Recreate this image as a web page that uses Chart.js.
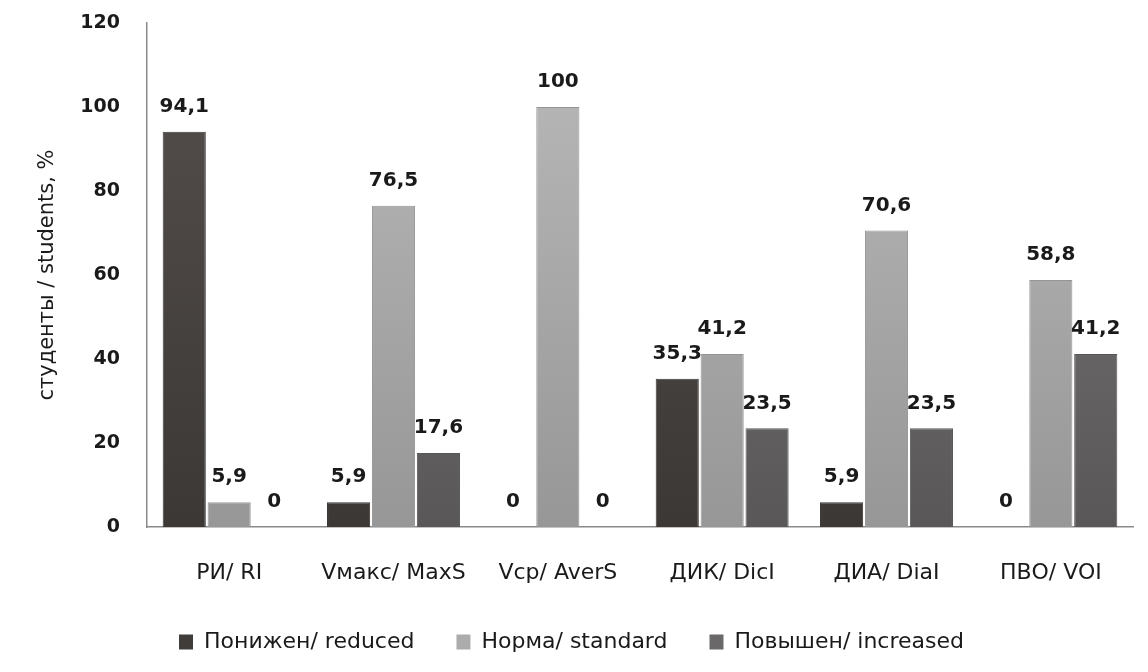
<!DOCTYPE html>
<html>
<head>
<meta charset="utf-8">
<script src="https://cdn.jsdelivr.net/npm/chart.js@4"></script>
<style>
  html, body { margin: 0; padding: 0; background: #fff; }
  #wrap { width: 1148px; height: 672px; }
</style>
</head>
<body>
<div id="wrap"><canvas id="myChart"></canvas></div>
<script>
// categories and values
var categories = ["РИ/ RI", "Vмакс/ MaxS", "Vср/ AverS", "ДИК/ DicI", "ДИА/ DiaI", "ПВО/ VOI"];
var reduced   = [94.1, 5.9, 0, 35.3, 5.9, 0];
var standard  = [5.9, 76.5, 100, 41.2, 70.6, 58.8];
var increased = [0, 17.6, 0, 23.5, 23.5, 41.2];
var seriesNames = ["Понижен/ reduced", "Норма/ standard", "Повышен/ increased"];
var yTicks = [0, 20, 40, 60, 80, 100, 120];

var FONT = "'DejaVu Sans', sans-serif";

// vertical gradient over the chart area, excel-ish look
function grad(top, bottom) {
  return function(c) {
    var area = c.chart.chartArea;
    if (!area) return bottom;
    var g = c.chart.ctx.createLinearGradient(0, area.top, 0, area.bottom);
    g.addColorStop(0, top);
    g.addColorStop(1, bottom);
    return g;
  };
}

// value labels above bars, with comma decimal
var valueLabels = {
  id: "valueLabels",
  afterDatasetsDraw: function(chart) {
    var ctx = chart.ctx;
    ctx.save();
    ctx.font = "bold 20px " + FONT;
    ctx.fillStyle = "#1a1a1a";
    ctx.textAlign = "center";
    ctx.textBaseline = "middle";
    chart.data.datasets.forEach(function(ds, i) {
      chart.getDatasetMeta(i).data.forEach(function(bar, j) {
        var txt = String(ds.data[j]).replace(".", ",");
        ctx.fillText(txt, bar.x, bar.y - 25);
      });
    });
    ctx.restore();
  }
};

new Chart("myChart", {
  type: "bar",
  data: {
    labels: categories,
    datasets: [{
      label: seriesNames[0],
      data: reduced,
      backgroundColor: grad("#55504e", "#3c3836"),
      borderColor: "#3a3634",
      borderWidth: 1
    }, {
      label: seriesNames[1],
      data: standard,
      backgroundColor: grad("#bababa", "#979797"),
      borderColor: "#959595",
      borderWidth: 1
    }, {
      label: seriesNames[2],
      data: increased,
      backgroundColor: grad("#7c7a7a", "#595757"),
      borderColor: "#575555",
      borderWidth: 1
    }]
  },
  plugins: [valueLabels],
  options: {
    responsive: true,
    maintainAspectRatio: false,
    animation: false,
    layout: { padding: { left: 10, right: 15, top: 23, bottom: 9 } },
    datasets: {
      bar: { categoryPercentage: 0.82, barPercentage: 0.96 }
    },
    plugins: {
      tooltip: { enabled: false },
      legend: {
        position: "bottom",
        labels: {
          font: { family: FONT, size: 22 },
          color: "#1a1a1a",
          boxWidth: 14,
          boxHeight: 15,
          padding: 42,
          generateLabels: function(chart) {
            var cols = ["#403c3a", "#acacac", "#6a6868"];
            return chart.data.datasets.map(function(ds, i) {
              return {
                text: ds.label,
                fillStyle: cols[i],
                strokeStyle: cols[i],
                lineWidth: 0,
                datasetIndex: i,
                fontColor: "#1a1a1a"
              };
            });
          }
        }
      }
    },
    scales: {
      x: {
        grid: { display: false, drawTicks: false },
        border: { display: true, color: "#8a8a8a", width: 1.5 },
        ticks: {
          padding: 33,
          color: "#1a1a1a",
          font: { family: FONT, size: 22 }
        },
        afterFit: function(scale) {
          scale.height = 62;
          scale.paddingLeft = 0;
          scale.paddingRight = 0;
        }
      },
      y: {
        min: 0,
        max: 120,
        afterBuildTicks: function(scale) {
          scale.ticks = yTicks.map(function(v) { return { value: v }; });
        },
        grid: { display: false, drawTicks: false },
        border: { display: true, color: "#8a8a8a", width: 1.5 },
        ticks: {
          padding: 27,
          color: "#1a1a1a",
          font: { family: FONT, size: 19, weight: "bold" }
        },
        title: {
          display: true,
          text: "студенты / students, %",
          color: "#1a1a1a",
          font: { family: FONT, size: 21 },
          padding: { top: 25, bottom: 0 }
        },
        afterFit: function(scale) {
          scale.width = 137;
          scale.paddingTop = 0;
          scale.paddingBottom = 0;
        }
      }
    }
  }
});
</script>
</body>
</html>
